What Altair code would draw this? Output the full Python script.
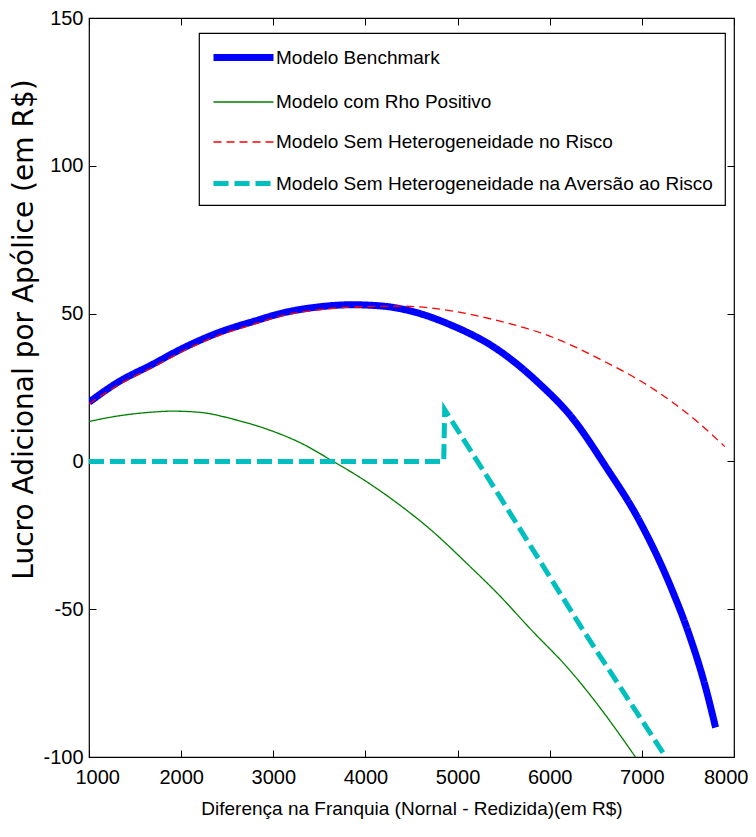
import altair as alt
import pandas as pd

SERIES = [
    "Modelo Benchmark",
    "Modelo com Rho Positivo",
    "Modelo Sem Heterogeneidade no Risco",
    "Modelo Sem Heterogeneidade na Aversão ao Risco",
]
COLORS = ["#0000FF", "#008000", "#FF0000", "#00BFBF"]
WIDTHS = [7, 1.3, 1.3, 5]
DASHES = [[1, 0], [1, 0], [8, 5], [15, 6]]

bench_x = [1000, 1300, 1700, 2000, 2400, 2800, 3100, 3500, 3850, 4200, 4500, 4900,
           5450, 5880, 6245, 6607, 6968, 7328, 7509, 7690, 7800]
bench_y = [20, 26.5, 33, 38, 43.5, 47.5, 50.2, 52.3, 53, 52.5, 50.8, 46.5,
           37.5, 26.5, 14.7, -1.7, -19.8, -43.5, -58.2, -76.3, -90]

rho_x = [1000, 1300, 1700, 1900, 2200, 2600, 2950, 3300, 3650, 3950, 4370, 4730,
         5100, 5450, 5800, 6200, 6550, 6930]
rho_y = [13.5, 15.3, 16.7, 17, 16.6, 14, 10.7, 6.2, 0, -5.6, -14.7, -23.7,
         -34.5, -45.2, -57, -70, -83.5, -100]

risk_x = [1000, 1300, 1700, 2000, 2400, 2800, 3100, 3500, 3850, 4400, 5000, 5450,
          6000, 6550, 7100, 7600, 7900]
risk_y = [19.5, 25.5, 32, 37, 42.5, 46.5, 49.3, 51.3, 52.2, 52.5, 50.6, 47.5,
          42.4, 34.5, 25, 13.5, 5]

avers_x = [1000, 4850, 4860, 5450, 6350, 7260]
avers_y = [0, 0, 17.5, -11.5, -56.5, -100]

x_ticks = [1000, 2000, 3000, 4000, 5000, 6000, 7000, 8000]
y_ticks = [-100, -50, 0, 50, 100, 150]

rows = []
for name, xs, ys in zip(SERIES, [bench_x, rho_x, risk_x, avers_x], [bench_y, rho_y, risk_y, avers_y]):
    for i, (xv, yv) in enumerate(zip(xs, ys)):
        rows.append({"series": name, "x": xv, "y": yv, "order": i})
df = pd.DataFrame(rows)

FONT = "Liberation Sans"
SYMBOL = "M-1,0H5"

xscale = alt.Scale(domain=[1000, 8000], nice=False, zero=False)
yscale = alt.Scale(domain=[-100, 150], nice=False, zero=False)


def leg():
    return alt.Legend(title=None, symbolType=SYMBOL)


color = alt.Color("series:N", scale=alt.Scale(domain=SERIES, range=COLORS), sort=SERIES, legend=leg())
dash = alt.StrokeDash("series:N", scale=alt.Scale(domain=SERIES, range=DASHES), sort=SERIES, legend=leg())
swidth = alt.StrokeWidth("series:N", scale=alt.Scale(type="ordinal", domain=SERIES, range=WIDTHS),
                         sort=SERIES, legend=leg())

LABEL_EXPR = "'' + datum.value"

x_axis = alt.Axis(values=x_ticks, orient="bottom", offset=-7, tickSize=7, domain=False, grid=False,
                  labelPadding=10, labelExpr=LABEL_EXPR, labelFlush=True, labelFlushOffset=14,
                  title="Diferença na Franquia (Nornal - Redizida)(em R$)",
                  titleFont=FONT, titleFontSize=19, titleFontWeight="normal", titlePadding=12)
y_axis = alt.Axis(values=y_ticks, orient="left", offset=-7, tickSize=7, domain=False, grid=False,
                  labelPadding=6, labelExpr=LABEL_EXPR, labelFlush=False,
                  title="Lucro Adicional por Apólice (em R$)",
                  titleFont="DejaVu Sans", titleFontSize=28, titleFontWeight="normal",
                  titleX=-72, titleY=311, titleBaseline="middle", titleAlign="center", titleAngle=270)

curves = alt.Chart(df).transform_filter(
    alt.FieldOneOfPredicate(field="series", oneOf=SERIES[:3])
).mark_line(interpolate="monotone", clip=True).encode(
    x=alt.X("x:Q", scale=xscale, axis=x_axis),
    y=alt.Y("y:Q", scale=yscale, axis=y_axis),
    color=color, strokeDash=dash, strokeWidth=swidth, order="order:Q",
)

cyan = alt.Chart(df).transform_filter(
    alt.FieldEqualPredicate(field="series", equal=SERIES[3])
).mark_line(interpolate="linear", clip=True).encode(
    x=alt.X("x:Q", scale=xscale, axis=None),
    y=alt.Y("y:Q", scale=yscale, axis=None),
    color=color, strokeDash=dash, strokeWidth=swidth, order="order:Q",
)

frame = alt.Chart(df).mark_point(opacity=0).encode(
    x=alt.X("x:Q", scale=xscale, axis=alt.Axis(values=x_ticks, orient="top", offset=-7, tickSize=7,
                                                 domain=False, grid=False, labels=False, title=None)),
    y=alt.Y("y:Q", scale=yscale, axis=alt.Axis(values=y_ticks, orient="right", offset=-7, tickSize=7,
                                                 domain=False, grid=False, labels=False, title=None)),
)

chart = alt.layer(curves, cyan, frame).resolve_axis(x="independent", y="independent").properties(
    width=645, height=739,
    autosize=alt.AutoSizeParams(type="none"),
    padding={"left": 81, "top": 10, "right": 14, "bottom": 72},
).configure_view(
    stroke="black", strokeWidth=1.2,
).configure_axis(
    labelFont=FONT, labelFontSize=20, labelColor="black", tickColor="black", tickWidth=1,
    titleColor="black",
).configure_legend(
    orient="none", legendX=110, legendY=15, fillColor="white", strokeColor="black", strokeWidth=1.2,
    padding=11, symbolSize=400, labelFont=FONT, labelFontSize=19,
    labelColor="black", labelLimit=700, labelOffset=39, rowPadding=19,
)

chart.save("out.html", embed_options={"renderer": "svg", "actions": False})
